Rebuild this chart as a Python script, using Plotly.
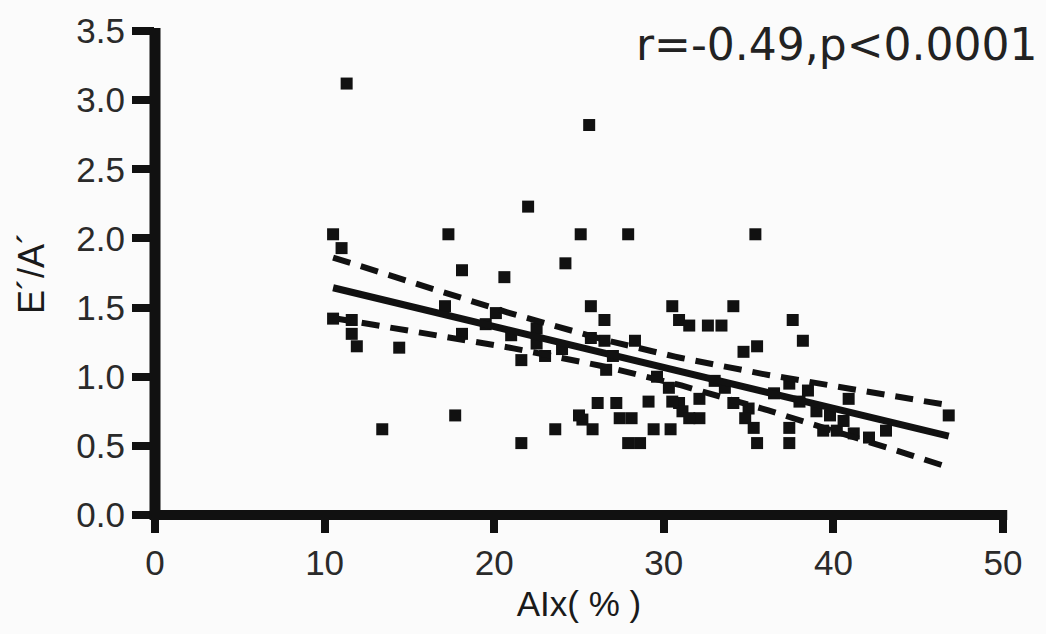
import numpy as np
import plotly.graph_objects as go

# AIx (%) and E'/A' for each subject
aix = [
    10.5, 11.0, 11.3, 10.5, 11.6, 11.6, 11.9, 13.4, 14.4,
    17.3, 17.7, 18.1, 17.1, 18.1, 20.1, 20.6, 21.6, 21.6, 22.0, 22.5, 22.5, 19.5, 21.0,
    23.6, 24.2, 25.1, 25.6, 25.7, 26.5, 25.7, 26.5, 27.9, 28.3, 25.2, 25.8, 26.1, 27.2,
    25.0, 27.4, 28.1, 27.9, 28.6, 29.1, 29.4, 30.4, 27.0, 24.0,
    30.5, 30.9, 31.5, 32.6, 33.4, 34.1, 35.4, 37.6, 38.2, 34.7, 35.5, 30.3, 30.9, 31.1,
    32.1, 32.1, 34.1, 35.0, 34.8, 35.3, 35.5, 37.4, 37.4, 37.4, 39.4, 40.2, 41.2, 42.1,
    40.9, 43.1, 46.8, 30.5, 31.5, 33.0, 38.5, 39.0,
    36.5, 38.0, 39.8, 40.6, 33.6, 29.6, 23.0, 26.6,
]
ea = [
    2.03, 1.93, 3.12, 1.42, 1.41, 1.31, 1.22, 0.62, 1.21,
    2.03, 0.72, 1.77, 1.51, 1.31, 1.46, 1.72, 1.12, 0.52, 2.23, 1.35, 1.24, 1.38, 1.30,
    0.62, 1.82, 2.03, 2.82, 1.51, 1.41, 1.28, 1.26, 2.03, 1.26, 0.69, 0.62, 0.81, 0.81,
    0.72, 0.70, 0.70, 0.52, 0.52, 0.82, 0.62, 0.62, 1.15, 1.20,
    1.51, 1.41, 1.37, 1.37, 1.37, 1.51, 2.03, 1.41, 1.26, 1.18, 1.22, 0.92, 0.81, 0.75,
    0.70, 0.84, 0.81, 0.77, 0.70, 0.63, 0.52, 0.63, 0.52, 0.95, 0.61, 0.61, 0.59, 0.56,
    0.84, 0.61, 0.72, 0.82, 0.70, 0.97, 0.90, 0.75,
    0.88, 0.82, 0.72, 0.68, 0.92, 1.00, 1.15, 1.05,
]

x_ticks = [0, 10, 20, 30, 40, 50]
y_ticks = [0.0, 0.5, 1.0, 1.5, 2.0, 2.5, 3.0, 3.5]
y_tick_text = ["0.0", "0.5", "1.0", "1.5", "2.0", "2.5", "3.0", "3.5"]
stats_label = "r=-0.49,p<0.0001"
x_title = "AIx( % )"
y_title = "E´/A´"

# least-squares fit with 95% confidence band of the mean
x = np.array(aix)
y = np.array(ea)
n = len(x)
slope, intercept = np.polyfit(x, y, 1)
resid = y - (slope * x + intercept)
s = np.sqrt(np.sum(resid ** 2) / (n - 2))
sxx = np.sum((x - x.mean()) ** 2)
t_crit = 1.99
xf = np.linspace(x.min(), x.max(), 100)
yf = slope * xf + intercept
half = t_crit * s * np.sqrt(1.0 / n + (xf - x.mean()) ** 2 / sxx)

ink = "#111111"
fig = go.Figure()
fig.add_trace(go.Scatter(
    x=aix, y=ea, mode="markers",
    marker=dict(symbol="square", size=12, color=ink, line=dict(width=0)),
))
fig.add_trace(go.Scatter(x=xf, y=yf, mode="lines", line=dict(color=ink, width=7)))
for band in (yf + half, yf - half):
    fig.add_trace(go.Scatter(
        x=xf, y=band, mode="lines",
        line=dict(color=ink, width=6, dash="18px,11px"),
    ))

# heavy axis lines along the left and bottom edges of the plot area
fig.add_shape(type="line", xref="paper", yref="paper", x0=0, x1=0, y0=-0.01, y1=1.006,
              line=dict(color=ink, width=11))
fig.add_shape(type="line", xref="paper", yref="paper", x0=-0.006, x1=1.005, y0=0, y1=0,
              line=dict(color=ink, width=10))

font = "Liberation Sans, Arial, sans-serif"
fig.update_layout(
    width=1046, height=634,
    margin=dict(l=155, r=43, t=31, b=119),
    paper_bgcolor="#fbfbfb", plot_bgcolor="#fbfbfb",
    showlegend=False,
    font=dict(family=font, color="#222222"),
)
fig.update_xaxes(
    range=[0, 50], tickvals=x_ticks, ticktext=[str(v) for v in x_ticks],
    showgrid=False, zeroline=False, showline=False,
    ticks="outside", ticklen=17, tickwidth=8, tickcolor=ink,
    tickfont=dict(size=35, family=font, color="#2a2a2a"),
    title=dict(text=x_title, font=dict(size=35, family=font, color="#1a1a1a"), standoff=10),
)
fig.update_yaxes(
    range=[0, 3.5], tickvals=y_ticks, ticktext=y_tick_text,
    showgrid=False, zeroline=False, showline=False,
    ticks="outside", ticklen=22, tickwidth=8, tickcolor=ink,
    tickfont=dict(size=35, family=font, color="#2a2a2a"),
    title=dict(text=y_title, font=dict(size=36, family=font, color="#1a1a1a"), standoff=20),
)
fig.add_annotation(
    text=stats_label, xref="paper", yref="paper", x=1.044, y=0.972,
    xanchor="right", yanchor="middle", showarrow=False,
    font=dict(size=44, family="DejaVu Sans, sans-serif", color="#222222"),
)

fig.write_html("out.html")
